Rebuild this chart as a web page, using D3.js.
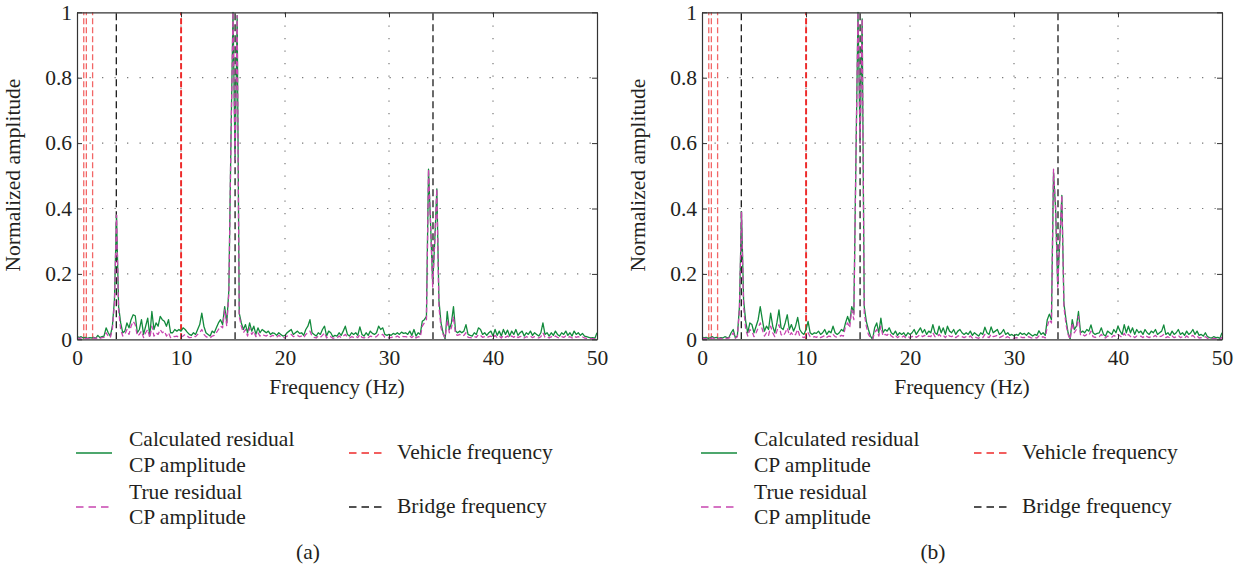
<!DOCTYPE html>
<html>
<head>
<meta charset="utf-8">
<script src="https://cdn.jsdelivr.net/npm/d3@7"></script>
<style>
  html, body { margin: 0; padding: 0; background: #ffffff; }
  svg { display: block; }
  text { font-family: "Liberation Serif", "DejaVu Serif", serif; fill: #231f20; }
</style>
</head>
<body>
<svg id="chart" width="1243" height="572"></svg>
<script>
// ---------------- DATA ----------------
const freqStep = 0.2; // Hz between spectral bins (bin i is at i * freqStep)

// Panel (a)
const calcA = [
  0.01,0.005,0.008,0.004,0.006,0.003,0.005,0.004,0.006,0.003,0.012,0.005,0.008,0.01,
  0.035,0.02,0.01,0.04,0.12,0.38,0.1,0.05,0.02,0.025,
  0.05,0.035,0.06,0.075,0.072,0.02,0.03,0.06,0.015,0.04,
  0.065,0.01,0.085,0.03,0.05,0.04,0.07,0.06,0.055,0.04,
  0.06,0.02,0.02,0.03,0.025,0.03,0.025,
  0.035,0.03,0.022,0.015,0.012,0.02,0.015,0.03,0.045,0.08,
  0.04,0.02,0.015,0.01,0.025,0.02,0.035,0.05,0.06,0.045,
  0.1,0.05,0.15,
  0.6,1.0,0.55,0.99,0.08,0.05,0.03,
  0.045,0.02,0.05,0.025,0.04,0.015,0.035,0.02,0.03,0.025,
  0.02,0.025,0.015,0.02,0.018,0.012,0.02,0.015,0.01,0.012,
  0.02,0.025,0.03,0.015,0.02,0.025,0.018,0.02,0.012,0.03,
  0.04,0.06,0.02,0.015,0.01,0.02,0.015,0.03,0.04,0.01,
  0.025,0.02,0.008,0.012,0.01,0.02,0.012,0.025,0.04,0.015,
  0.01,0.02,0.015,0.02,0.012,0.038,0.015,0.01,0.02,0.012,
  0.025,0.018,0.015,0.02,0.04,0.03,0.035,0.015,0.012,0.015,
  0.012,0.018,0.015,0.02,0.015,0.022,0.018,0.02,0.015,0.025,
  0.012,0.03,0.01,0.02,0.015,0.055,0.06,0.07,
  0.52,0.35,0.17,0.3,0.46,0.12,0.05,0.02,0.0,0.085,0.03,0.05,0.1,0.025,0.02,0.025,0.02,0.025,0.045,0.015,0.012,0.01,
  0.02,0.015,0.035,0.03,0.015,0.02,0.012,0.02,0.025,0.01,
  0.03,0.012,0.025,0.01,0.03,0.015,0.028,0.01,0.025,0.015,
  0.03,0.012,0.02,0.025,0.01,0.02,0.015,0.025,0.012,0.02,
  0.015,0.01,0.02,0.05,0.015,0.02,0.01,0.02,0.012,0.025,
  0.015,0.01,0.02,0.015,0.025,0.012,0.02,0.01,0.025,0.015,
  0.02,0.012,0.018,0.01,0.008,0.006,0.004,0.005,0.003,0.02
];
const trueA = [
  0.005,0.003,0.004,0.002,0.003,0.002,0.003,0.002,0.004,0.002,0.006,0.003,0.005,0.006,
  0.02,0.01,0.005,0.03,0.11,0.38,0.09,0.03,0.01,0.015,
  0.03,0.015,0.04,0.055,0.045,0.01,0.015,0.025,0.005,0.02,
  0.03,0.005,0.04,0.01,0.02,0.015,0.03,0.02,0.025,0.01,
  0.02,0.005,0.01,0.008,0.01,0.005,0.008,
  0.01,0.015,0.01,0.005,0.006,0.01,0.008,0.015,0.02,0.03,
  0.015,0.008,0.005,0.004,0.01,0.012,0.02,0.03,0.04,0.035,
  0.09,0.04,0.14,
  0.6,1.0,0.55,0.99,0.07,0.04,0.02,
  0.03,0.01,0.035,0.015,0.025,0.008,0.02,0.01,0.015,0.012,
  0.01,0.015,0.008,0.012,0.01,0.006,0.012,0.008,0.005,0.006,
  0.01,0.012,0.015,0.008,0.01,0.012,0.008,0.01,0.005,0.015,
  0.02,0.025,0.01,0.006,0.004,0.01,0.006,0.012,0.02,0.004,
  0.01,0.008,0.003,0.005,0.004,0.01,0.005,0.01,0.015,0.006,
  0.004,0.008,0.006,0.01,0.005,0.015,0.006,0.004,0.008,0.005,
  0.01,0.008,0.006,0.008,0.015,0.012,0.015,0.006,0.005,0.006,
  0.005,0.008,0.006,0.01,0.006,0.01,0.008,0.008,0.006,0.01,
  0.005,0.012,0.004,0.008,0.006,0.04,0.05,0.06,
  0.52,0.35,0.16,0.3,0.46,0.1,0.035,0.015,0.005,0.06,0.02,0.035,0.07,0.015,0.012,0.015,0.01,0.012,0.02,0.006,0.005,0.004,
  0.008,0.006,0.015,0.012,0.006,0.008,0.005,0.008,0.01,0.004,
  0.012,0.005,0.01,0.004,0.012,0.006,0.01,0.004,0.01,0.006,
  0.012,0.005,0.008,0.01,0.004,0.008,0.006,0.01,0.005,0.008,
  0.006,0.004,0.008,0.02,0.006,0.008,0.004,0.008,0.005,0.01,
  0.006,0.004,0.008,0.006,0.01,0.005,0.008,0.004,0.01,0.006,
  0.008,0.005,0.007,0.004,0.003,0.002,0.002,0.002,0.001,0.005
];

// Panel (b)
const calcB = [
  0.008,0.004,0.006,0.003,0.005,0.008,0.004,0.006,0.003,0.005,0.004,0.008,0.005,0.006,
  0.02,0.03,0.005,0.01,0.1,0.39,0.12,
  0.055,0.02,0.05,0.045,0.02,0.04,0.06,0.1,0.06,0.025,
  0.04,0.03,0.08,0.04,0.02,0.05,0.09,0.035,0.03,0.05,
  0.075,0.03,0.045,0.025,0.04,0.067,0.03,0.02,0.015,0.03,
  0.055,0.02,0.015,0.02,0.018,0.025,0.015,0.02,0.03,0.015,
  0.025,0.02,0.04,0.02,0.015,0.02,0.03,0.025,0.05,0.07,
  0.05,0.1,0.08,
  0.55,1.0,0.6,0.98,0.1,0.055,0.03,
  0.01,0.0,0.035,0.05,0.02,0.065,0.02,0.03,0.025,0.035,
  0.02,0.015,0.025,0.012,0.02,0.015,0.02,0.01,0.02,0.015,
  0.02,0.03,0.015,0.025,0.035,0.02,0.03,0.015,0.025,0.02,
  0.045,0.02,0.015,0.04,0.02,0.035,0.015,0.04,0.025,0.02,
  0.03,0.015,0.025,0.03,0.02,0.015,0.02,0.015,0.025,0.012,
  0.02,0.015,0.01,0.02,0.015,0.037,0.02,0.015,0.038,0.02,
  0.025,0.03,0.015,0.02,0.03,0.015,0.02,0.012,0.015,0.01,
  0.015,0.012,0.02,0.015,0.018,0.012,0.02,0.015,0.01,0.015,
  0.012,0.026,0.015,0.02,0.012,0.06,0.077,0.06,
  0.51,0.4,0.17,0.3,0.44,0.11,0.06,0.02,0.0,0.06,0.03,0.04,0.085,0.02,0.025,0.02,0.03,0.025,0.044,0.02,0.015,0.018,
  0.02,0.035,0.015,0.01,0.025,0.02,0.015,0.03,0.02,0.04,
  0.025,0.015,0.045,0.02,0.04,0.02,0.035,0.015,0.03,0.02,
  0.025,0.015,0.03,0.02,0.015,0.025,0.02,0.03,0.015,0.02,
  0.025,0.044,0.015,0.02,0.012,0.025,0.015,0.02,0.03,0.015,
  0.02,0.012,0.025,0.015,0.02,0.03,0.015,0.025,0.012,0.015,
  0.01,0.02,0.008,0.005,0.004,0.008,0.005,0.006,0.003,0.02
];
const trueB = [
  0.004,0.002,0.003,0.002,0.003,0.004,0.002,0.003,0.002,0.003,0.002,0.004,0.003,0.004,
  0.01,0.02,0.003,0.008,0.09,0.39,0.1,
  0.03,0.01,0.03,0.025,0.008,0.02,0.035,0.05,0.03,0.01,
  0.02,0.012,0.04,0.02,0.008,0.025,0.045,0.015,0.01,0.02,
  0.035,0.012,0.02,0.01,0.015,0.03,0.01,0.008,0.005,0.01,
  0.02,0.008,0.005,0.008,0.006,0.01,0.005,0.008,0.012,0.006,
  0.01,0.008,0.015,0.008,0.006,0.008,0.012,0.01,0.04,0.05,
  0.035,0.09,0.06,
  0.55,1.0,0.6,0.98,0.08,0.04,0.015,
  0.005,0.0,0.02,0.03,0.01,0.04,0.01,0.015,0.012,0.02,
  0.01,0.006,0.012,0.005,0.01,0.006,0.01,0.004,0.008,0.006,
  0.008,0.012,0.006,0.01,0.015,0.008,0.012,0.006,0.01,0.008,
  0.02,0.008,0.006,0.015,0.008,0.012,0.005,0.015,0.01,0.008,
  0.012,0.005,0.01,0.012,0.008,0.005,0.008,0.005,0.01,0.004,
  0.008,0.005,0.003,0.008,0.005,0.015,0.008,0.005,0.015,0.008,
  0.01,0.012,0.005,0.008,0.012,0.005,0.008,0.004,0.005,0.003,
  0.005,0.004,0.008,0.005,0.006,0.004,0.008,0.005,0.003,0.005,
  0.004,0.01,0.005,0.008,0.004,0.04,0.06,0.05,
  0.52,0.4,0.16,0.3,0.44,0.1,0.045,0.015,0.0,0.05,0.02,0.03,0.07,0.012,0.015,0.01,0.015,0.012,0.025,0.008,0.006,0.008,
  0.008,0.015,0.006,0.004,0.01,0.008,0.006,0.012,0.008,0.015,
  0.01,0.006,0.018,0.008,0.015,0.008,0.012,0.005,0.01,0.008,
  0.01,0.005,0.012,0.008,0.005,0.01,0.008,0.012,0.005,0.008,
  0.01,0.015,0.005,0.008,0.004,0.01,0.005,0.008,0.012,0.005,
  0.008,0.004,0.01,0.005,0.008,0.012,0.005,0.01,0.004,0.005,
  0.004,0.008,0.003,0.002,0.002,0.003,0.002,0.002,0.001,0.006
];

const vehicleFreqs = [0.65, 0.9, 1.5, 9.98, 10.04];
const bridgeFreqs = [3.78, 15.2, 34.23];
const xTicks = [0, 10, 20, 30, 40, 50];
const yTicks = [0, 0.2, 0.4, 0.6, 0.8, 1];
const xLabel = "Frequency (Hz)";
const yLabel = "Normalized amplitude";
const panelLabels = ["(a)", "(b)"];
const legendCalc = ["Calculated residual", "CP amplitude"];
const legendTrue = ["True residual", "CP amplitude"];
const legendVehicle = "Vehicle frequency";
const legendBridge = "Bridge frequency";

// ---------------- STYLE ----------------
const C_GREEN = "#138a3c";
const C_MAGENTA = "#c845b0";
const C_RED = "#ee2a2a";
const C_RED_LIGHT = "#f26666";
const C_BLACK = "#1a1a1a";
const FONT = 21.5;

const svg = d3.select("#chart");
svg.append("rect").attr("width", 1243).attr("height", 572).attr("fill", "#fff");

const panels = [
  { left: 77, calc: calcA, tru: trueA, label: panelLabels[0] },
  { left: 702, calc: calcB, tru: trueB, label: panelLabels[1] }
];
const plotTop = 12.3, plotBottom = 339.3, pw = 520;

panels.forEach((p, pi) => {
  const x = d3.scaleLinear().domain([0, 50]).range([p.left, p.left + pw]);
  const y = d3.scaleLinear().domain([0, 1]).range([plotBottom, plotTop]);
  const g = svg.append("g");
  const clipId = "clip" + pi;
  svg.append("clipPath").attr("id", clipId).append("rect")
    .attr("x", p.left).attr("y", plotTop - 1).attr("width", pw).attr("height", plotBottom - plotTop + 1);

  // grid (dotted)
  const grid = g.append("g").attr("stroke", "#7a7a7a").attr("stroke-width", 1.2)
    .attr("stroke-dasharray", "1.3,11.2");
  grid.selectAll("line.vx").data(xTicks.slice(1, -1)).join("line")
    .attr("x1", d => x(d)).attr("x2", d => x(d)).attr("y1", plotBottom).attr("y2", plotTop);
  grid.selectAll("line.hy").data(yTicks.slice(1, -1)).join("line")
    .attr("x1", p.left).attr("x2", p.left + pw).attr("y1", d => y(d)).attr("y2", d => y(d));

  const plot = g.append("g").attr("clip-path", `url(#${clipId})`);

  // vehicle lines
  plot.selectAll("line.veh").data(vehicleFreqs).join("line")
    .attr("x1", d => x(d)).attr("x2", d => x(d)).attr("y1", plotBottom).attr("y2", plotTop)
    .attr("stroke", d => d < 5 ? C_RED_LIGHT : C_RED).attr("stroke-width", 1.3)
    .attr("stroke-dasharray", "6,3");
  // bridge lines
  plot.selectAll("line.br").data(bridgeFreqs).join("line")
    .attr("x1", d => x(d)).attr("x2", d => x(d)).attr("y1", plotBottom).attr("y2", plotTop)
    .attr("stroke", C_BLACK).attr("stroke-width", 1.3).attr("stroke-dasharray", "7,4");

  const line = d3.line().x((d, i) => x(i * freqStep)).y(d => y(d));
  plot.append("path").datum(p.calc).attr("d", line)
    .attr("fill", "none").attr("stroke", C_GREEN).attr("stroke-width", 1.3)
    .attr("stroke-linejoin", "round");
  plot.append("path").datum(p.tru).attr("d", line)
    .attr("fill", "none").attr("stroke", C_MAGENTA).attr("stroke-width", 1.3)
    .attr("stroke-dasharray", "5,3").attr("stroke-linejoin", "round");

  // axes
  const fmt = d3.format("~g");
  const axB = g.append("g").attr("transform", `translate(0,${plotBottom})`)
    .call(d3.axisBottom(x).tickValues(xTicks).tickFormat(fmt).tickSizeInner(-5).tickSizeOuter(0).tickPadding(10));
  const axL = g.append("g").attr("transform", `translate(${p.left},0)`)
    .call(d3.axisLeft(y).tickValues(yTicks).tickFormat(fmt).tickSizeInner(-5).tickSizeOuter(0).tickPadding(5));
  const axT = g.append("g").attr("transform", `translate(0,${plotTop})`)
    .call(d3.axisTop(x).tickValues(xTicks).tickFormat("").tickSizeInner(-5).tickSizeOuter(0));
  const axR = g.append("g").attr("transform", `translate(${p.left + pw},0)`)
    .call(d3.axisRight(y).tickValues(yTicks).tickFormat("").tickSizeInner(-5).tickSizeOuter(0));
  [axB, axL, axT, axR].forEach(a => {
    a.selectAll("path.domain").attr("stroke", "#333").attr("stroke-width", 1.2);
    a.selectAll(".tick line").attr("stroke", "#333").attr("stroke-width", 1);
    a.selectAll(".tick text").style("font-family", '"Liberation Serif", serif')
      .style("font-size", FONT + "px").attr("fill", "#231f20");
  });

  // axis titles
  g.append("text").attr("x", p.left + pw / 2).attr("y", 394).attr("text-anchor", "middle")
    .style("font-size", FONT + "px").text(xLabel);
  g.append("text").attr("transform", `translate(${p.left - 57},${175}) rotate(-90)`)
    .attr("text-anchor", "middle").style("font-size", FONT + "px").text(yLabel);

  // legend
  const L = g.append("g");
  const sx = p.left - 1, sl = 36, tx = p.left + 52;
  const vx = p.left + 272, vtx = p.left + 320;
  L.append("line").attr("x1", sx).attr("x2", sx + sl).attr("y1", 453).attr("y2", 453)
    .attr("stroke", C_GREEN).attr("stroke-width", 1.5);
  legendCalc.forEach((t, k) => L.append("text").attr("x", tx).attr("y", 446 + k * 26)
    .style("font-size", FONT + "px").text(t));
  L.append("line").attr("x1", sx).attr("x2", sx + sl).attr("y1", 507).attr("y2", 507)
    .attr("stroke", C_MAGENTA).attr("stroke-width", 1.5).attr("stroke-dasharray", "7.5,5");
  legendTrue.forEach((t, k) => L.append("text").attr("x", tx).attr("y", 499 + k * 25)
    .style("font-size", FONT + "px").text(t));
  L.append("line").attr("x1", vx).attr("x2", vx + sl).attr("y1", 453).attr("y2", 453)
    .attr("stroke", C_RED).attr("stroke-width", 1.5).attr("stroke-dasharray", "7.5,5");
  L.append("text").attr("x", vtx).attr("y", 459).style("font-size", FONT + "px").text(legendVehicle);
  L.append("line").attr("x1", vx).attr("x2", vx + sl).attr("y1", 507).attr("y2", 507)
    .attr("stroke", C_BLACK).attr("stroke-width", 1.5).attr("stroke-dasharray", "7.5,5");
  L.append("text").attr("x", vtx).attr("y", 513).style("font-size", FONT + "px").text(legendBridge);

  g.append("text").attr("x", p.left + 231).attr("y", 559).attr("text-anchor", "middle")
    .style("font-size", FONT + "px").text(p.label);
});
</script>
</body>
</html>
